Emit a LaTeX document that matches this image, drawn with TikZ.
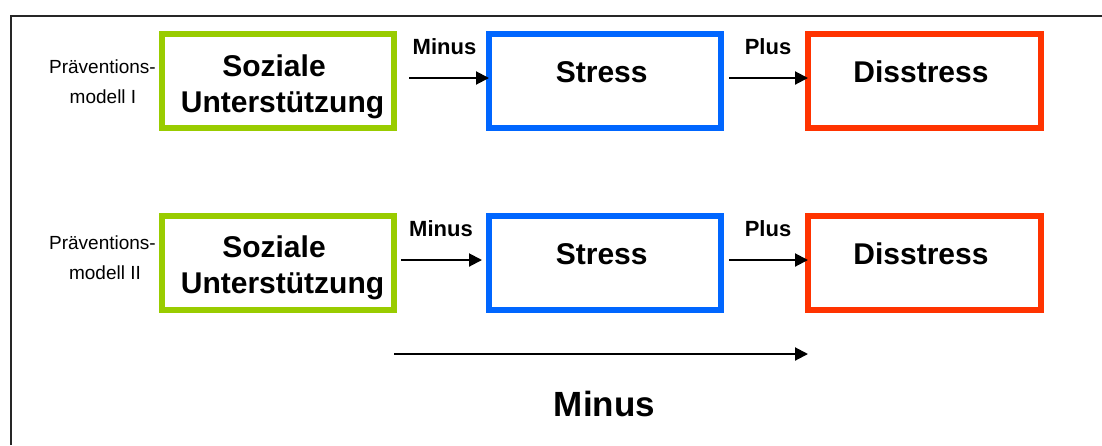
\documentclass[tikz,border=0pt]{standalone}
\usepackage{fontspec}
\setmainfont{Liberation Sans}
\usetikzlibrary{arrows.meta}
\definecolor{boxgreen}{HTML}{99CC00}
\definecolor{boxblue}{HTML}{0066FF}
\definecolor{boxred}{HTML}{FF3300}
\tikzset{
  box/.style={draw, line width=6pt, minimum width=232pt, minimum height=94pt, inner sep=0pt, outer sep=0pt, fill=white},
  boxtext/.style={inner sep=0pt, anchor=base, font=\fontsize{30pt}{36pt}\selectfont\bfseries},
  smalllabel/.style={inner sep=0pt, anchor=base, font=\fontsize{22pt}{26pt}\selectfont\bfseries},
  biglabel/.style={inner sep=0pt, anchor=base, font=\fontsize{35pt}{42pt}\selectfont\bfseries},
  sidelabel/.style={inner sep=0pt, anchor=base, font=\fontsize{19pt}{23pt}\selectfont},
  arr/.style={line width=2pt, -{Triangle[length=13pt,width=13pt]}},
  frameline/.style={line width=1.5pt, black!85}
}
\begin{document}
\begin{tikzpicture}[x=1pt, y=-1pt]
\useasboundingbox (0,0) rectangle (1102,445);
% frame
\coordinate (fbl) at (11,445);
\coordinate (ftl) at (11,16);
\coordinate (ftr) at (1102,16);
\draw[frameline] (fbl) -- (ftl) -- (ftr);

% row 1
\node[box, draw=boxgreen] (soz1) at (278,81) {};
\node[box, draw=boxblue] (str1) at (605,81) {};
\node[box, draw=boxred, minimum width=233pt] (dis1) at (924.5,81) {};
\node[boxtext] (soz1a) at (274,76) {Soziale};
\node[boxtext] (soz1b) at (282.5,112) {Unterstützung};
\node[boxtext] (str1t) at (601.7,82) {Stress};
\node[boxtext] (dis1t) at (921,82) {Disstress};
\node[sidelabel] (pm1a) at (102.5,73) {Präventions-};
\node[sidelabel] (pm1b) at (103,103) {modell I};
\node[smalllabel] (m1) at (444.5,54) {Minus};
\node[smalllabel] (p1) at (768,54) {Plus};
\draw[arr] ([xshift=15pt,yshift=3pt]soz1.east) -- ([yshift=3pt]str1.west);
\draw[arr] ([xshift=8pt,yshift=3pt]str1.east) -- ([yshift=3pt]dis1.west);

% row 2
\node[box, draw=boxgreen] (soz2) at (278,262.5) {};
\node[box, draw=boxblue] (str2) at (605,262.5) {};
\node[box, draw=boxred, minimum width=233pt] (dis2) at (924.5,262.5) {};
\node[boxtext] (soz2a) at (274,257) {Soziale};
\node[boxtext] (soz2b) at (282.5,293) {Unterstützung};
\node[boxtext] (str2t) at (601.7,264) {Stress};
\node[boxtext] (dis2t) at (921,264) {Disstress};
\node[sidelabel] (pm2a) at (102.5,249) {Präventions-};
\node[sidelabel] (pm2b) at (105,279) {modell II};
\node[smalllabel] (m2) at (441,236) {Minus};
\node[smalllabel] (p2) at (768,236) {Plus};
\draw[arr] ([xshift=7pt,yshift=2.5pt]soz2.east) -- ([xshift=-7pt,yshift=2.5pt]str2.west);
\draw[arr] ([xshift=8pt,yshift=2.5pt]str2.east) -- ([yshift=2.5pt]dis2.west);

% bottom arrow
\coordinate (la) at (394,354);
\coordinate (lb) at (808,354);
\draw[arr] (la) -- (lb);
\node[biglabel] (mb) at (604.5,416) {Minus};
\end{tikzpicture}
\end{document}
